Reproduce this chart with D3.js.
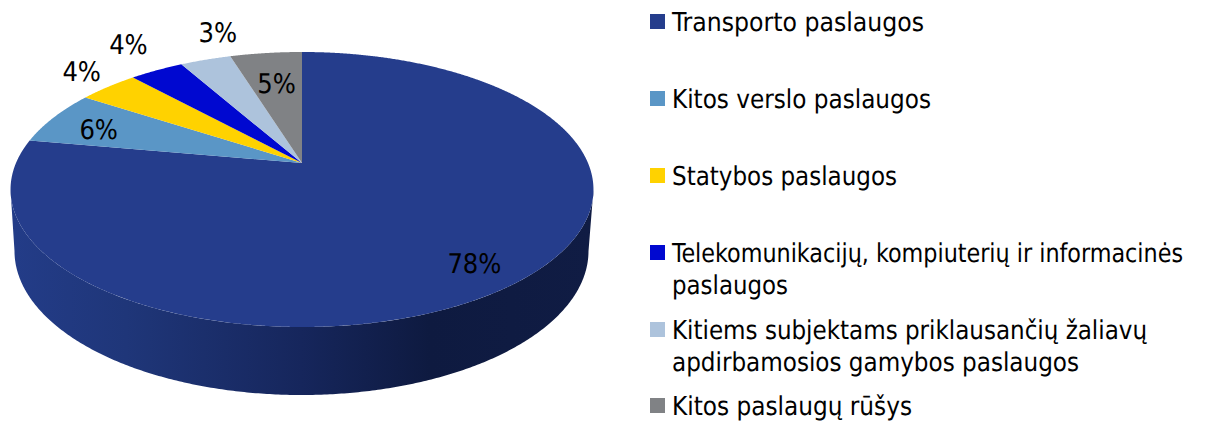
<!DOCTYPE html>
<html><head><meta charset="utf-8">
<script src="https://cdn.jsdelivr.net/npm/d3@7"></script>
<style>html,body{margin:0;background:#fff}svg{display:block}
text{font-family:"DejaVu Sans";font-stretch:condensed;fill:#000;text-rendering:geometricPrecision}</style></head>
<body><svg id="c" width="1224" height="421"></svg>
<script>
const categories = ["Transporto paslaugos","Kitos verslo paslaugos","Statybos paslaugos","Telekomunikacijų, kompiuterių ir informacinės paslaugos","Kitiems subjektams priklausančių žaliavų apdirbamosios gamybos paslaugos","Kitos paslaugų rūšys"];
const values = [77.8,6.4,4.0,3.6,3.4,4.8];
const colors = ["#253d8c","#5a96c6","#ffd200","#0008d0","#adc3dc","#808285"];
const legendLines = [["Transporto paslaugos"],["Kitos verslo paslaugos"],["Statybos paslaugos"],["Telekomunikacijų, kompiuterių ir informacinės","paslaugos"],["Kitiems subjektams priklausančių žaliavų","apdirbamosios gamybos paslaugos"],["Kitos paslaugų rūšys"]];
const legendLineWidths = [[252],[259],[225],[511,116],[475,407],[240]];
const legendRowY = [22,99,176,253,330,406];
const labelRadius = [0.70,0.80,1.12,1.18,1.17,0.70];
const labelNudge = [[29,21],[-2,3],[-6,-8],[-6,-12],[26,-13],[1,1]];

const svg = d3.select("#c");
// perspective projection of the unit disc
const cx=302, cy=163, persp=-0.1927, kY=132.4, R=286;
const project=(a,r=1)=>{const u=r*Math.sin(a),v=-r*Math.cos(a),d=1+persp*v;return [cx+R*u/d,cy+kY*v/d];};

const defs=svg.append("defs");
const grad=defs.append("linearGradient").attr("id","side").attr("gradientUnits","userSpaceOnUse")
 .attr("x1",10).attr("x2",593).attr("y1",0).attr("y2",0);
[[0,"#233c88"],[0.2,"#1f3679"],[0.5,"#16265c"],[0.72,"#0e1a40"],[1,"#101c44"]].forEach(s=>grad.append("stop").attr("offset",s[0]).attr("stop-color",s[1]));

const arcs=d3.pie().sort(null).value(d=>d)(values);
const line=d3.line();

// rim: front of the top disc (between its widest points) plus lower outline
const topPts=d3.range(Math.PI*0.562,Math.PI*1.438,0.01).map(a=>project(a));
const bot={cx:301.5,cy:251,rx:287,ry:144};
const botPts=d3.range(Math.PI,-0.001,-0.01).map(t=>[bot.cx+bot.rx*Math.cos(t),bot.cy+bot.ry*Math.sin(t)]);
svg.append("path").attr("fill","url(#side)").attr("d",line([...topPts,...botPts])+"Z");

// top slices
const slicePts=d=>{const n=Math.max(4,Math.ceil((d.endAngle-d.startAngle)/0.005));
 return [[cx,cy],...d3.range(n+1).map(i=>project(d.startAngle+(d.endAngle-d.startAngle)*i/n))];};
svg.append("g").selectAll("path").data(arcs).join("path")
 .attr("d",d=>line(slicePts(d))+"Z").attr("fill",(d,i)=>colors[i]);

// percent labels
svg.append("g").selectAll("text").data(arcs).join("text")
 .attr("x",(d,i)=>project((d.startAngle+d.endAngle)/2,labelRadius[i])[0]+labelNudge[i][0])
 .attr("y",(d,i)=>project((d.startAngle+d.endAngle)/2,labelRadius[i])[1]+labelNudge[i][1])
 .attr("dy","0.36em").attr("text-anchor","middle").attr("font-size",27)
 .text(d=>Math.round(d.value)+"%");

// legend
const leg=svg.append("g").selectAll("g").data(categories).join("g");
leg.append("rect").attr("x",650).attr("y",(d,i)=>legendRowY[i]-8).attr("width",15).attr("height",15).attr("fill",(d,i)=>colors[i]);
leg.each(function(d,i){d3.select(this).selectAll("text").data(legendLines[i]).join("text")
 .attr("x",672).attr("y",(t,j)=>legendRowY[i]+9+j*32).attr("font-size",26)
 .attr("textLength",(t,j)=>legendLineWidths[i][j]).attr("lengthAdjust","spacingAndGlyphs").text(t=>t);});
</script></body></html>
